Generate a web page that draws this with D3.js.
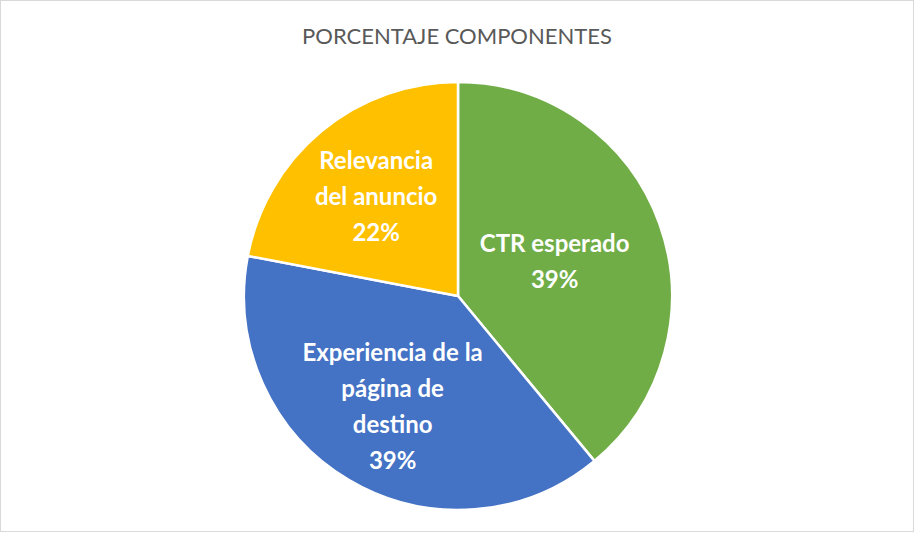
<!DOCTYPE html>
<html><head><meta charset="utf-8">
<script src="https://cdn.jsdelivr.net/npm/d3@7/dist/d3.min.js"></script>
<style>body{margin:0;background:#fff}</style></head>
<body><svg id="c" width="915" height="533"></svg>
<script>
const categories = ["CTR esperado", "Experiencia de la página de destino", "Relevancia del anuncio"];
const labelLines = [["CTR esperado"], ["Experiencia de la", "página de", "destino"], ["Relevancia", "del anuncio"]];
const values = [39, 39, 22];
const colors = ["#70ad47", "#4472c4", "#ffc000"];

const svg = d3.select("#c");
svg.append("rect").attr("x",0.5).attr("y",0.5).attr("width",913).attr("height",531)
  .attr("fill","#fff").attr("stroke","#d9d9d9");
svg.append("text").attr("x",457).attr("y",44).attr("text-anchor","middle")
  .attr("font-family","Lato, 'Open Sans', sans-serif").attr("font-size",22).attr("fill","#595959")
  .text("PORCENTAJE COMPONENTES");

const cx=458, cy=296, R=214;
const g = svg.append("g").attr("transform",`translate(${cx},${cy})`);
const pie = d3.pie().sort(null).value(d=>d)(values);
const arc = d3.arc().innerRadius(0).outerRadius(R);
g.selectAll("path").data(pie).join("path").attr("d",arc)
  .attr("fill",(d,i)=>colors[i]).attr("stroke","#fff").attr("stroke-width",2.5);

const lr = [0.48, 0.6, 0.6];
pie.forEach((d,i)=>{
  const a=(d.startAngle+d.endAngle)/2, r=R*lr[i];
  const x=Math.sin(a)*r, y=-Math.cos(a)*r;
  const lines=[...labelLines[i], Math.round(d.data)+"%"];
  const lh=36, y0=y-(lines.length-1)*lh/2;
  const t=g.append("text").attr("text-anchor","middle").attr("fill","#fff")
    .attr("font-family","Lato, 'Open Sans', sans-serif").attr("font-weight","bold").attr("font-size",24);
  lines.forEach((l,k)=>t.append("tspan").attr("x",x).attr("y",y0+k*lh).attr("dy","0.35em").text(l));
});
</script></body></html>
